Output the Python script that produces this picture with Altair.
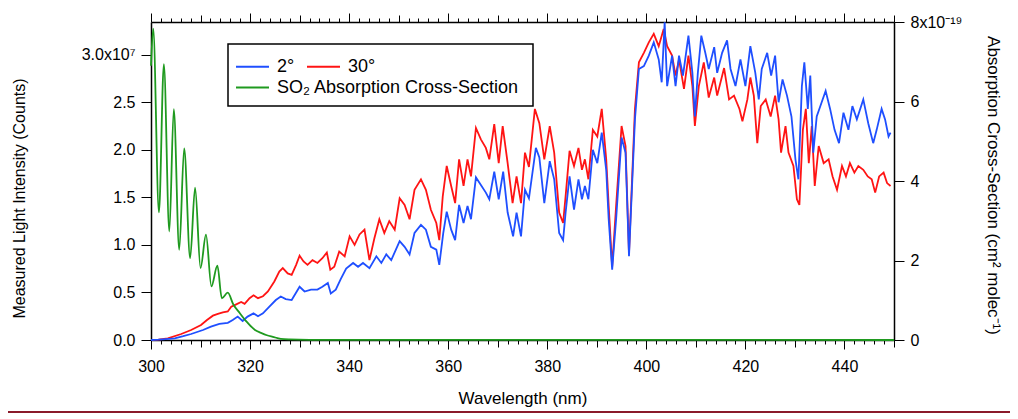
import altair as alt
import pandas as pd

# ---- Data ----
# 2 degree spectrum: wavelength (nm) and measured intensity (units of 1e7 counts)
wl_2deg = [300.0, 301.5, 303.0, 304.8, 306.5, 308.1, 310.5, 312.1, 313.8, 315.5,
           316.5, 317.5, 318.5, 319.5, 320.7, 321.6, 322.6, 323.9, 325.2, 326.2,
           327.2, 328.4, 330.0, 331.0, 332.3, 333.6, 334.6, 335.7, 336.3, 337.3,
           338.3, 339.4, 340.8, 341.8, 342.8, 344.1, 345.5, 346.5, 347.5, 348.5,
           350.2, 351.2, 352.2, 353.2, 354.5, 355.5, 356.5, 357.6, 358.2, 359.0,
           359.7, 360.6, 361.4, 362.2, 363.1, 363.9, 364.6, 365.6, 366.6, 367.6,
           368.3, 369.3, 370.2, 371.1, 372.0, 373.1, 373.8, 374.7, 375.5, 376.3,
           377.7, 378.4, 379.4, 380.5, 381.4, 382.4, 383.2, 383.7, 384.5, 385.4,
           386.3, 387.0, 387.6, 388.3, 389.2, 390.1, 391.0, 391.9, 392.4, 393.1,
           393.9, 395.0, 395.8, 396.5, 397.2, 397.7, 398.5, 399.5, 400.5, 401.5,
           402.5, 403.1, 403.7, 404.2, 405.2, 405.9, 406.6, 407.4, 408.5, 409.3,
           409.8, 410.4, 411.1, 411.9, 412.6, 413.7, 414.3, 415.3, 416.3, 417.0,
           418.0, 419.0, 420.0, 421.0, 422.0, 422.7, 423.3, 424.4, 425.2, 426.0,
           426.7, 427.5, 428.4, 429.3, 430.1, 430.7, 431.4, 431.9, 432.6, 433.1,
           433.7, 434.4, 435.4, 436.2, 437.1, 438.0, 438.9, 439.8, 440.8, 441.6,
           442.5, 443.8, 444.8, 445.8, 446.5, 447.5, 448.2, 448.9, 449.3]
int_2deg = [0.0, 0.003, 0.01, 0.018, 0.04, 0.063, 0.105, 0.14, 0.17, 0.18,
            0.21, 0.246, 0.20, 0.246, 0.28, 0.25, 0.28, 0.35, 0.42, 0.457,
            0.43, 0.42, 0.56, 0.51, 0.53, 0.53, 0.56, 0.60, 0.49, 0.53,
            0.64, 0.75, 0.81, 0.77, 0.81, 0.756, 0.88, 0.81, 0.90, 0.84,
            1.04, 0.98, 0.90, 1.125, 1.21, 1.16, 0.98, 0.95, 0.79, 1.125,
            1.35, 1.16, 1.05, 1.42, 1.23, 1.41, 1.27, 1.71, 1.63, 1.55,
            1.48, 1.77, 1.48, 1.77, 1.34, 1.09, 1.34, 1.09, 1.58, 1.49,
            2.02, 1.92, 1.44, 1.88, 1.69, 1.125, 1.05, 1.34, 1.72, 1.37,
            1.69, 1.48, 1.62, 1.48, 2.0, 1.86, 2.18, 1.79, 1.27, 0.74,
            1.27, 2.13, 1.97, 0.88, 1.72, 2.32, 2.85, 2.88, 2.99, 3.13,
            2.95, 2.71, 3.34, 2.67, 2.99, 2.67, 2.99, 2.78, 3.2, 2.81,
            2.35, 2.81, 3.2, 3.02, 2.85, 3.08, 2.81, 3.02, 3.15, 2.85,
            2.67, 2.95, 2.67, 3.09, 2.81, 2.53, 2.85, 3.02, 2.78, 2.99,
            2.50, 2.74, 2.57, 2.35, 1.90, 1.69, 2.67, 2.92, 2.43, 2.78,
            1.97, 2.35, 2.50, 2.62, 2.43, 2.21, 2.07, 2.39, 2.21, 2.46,
            2.32, 2.53, 2.28, 2.07, 2.21, 2.43, 2.32, 2.14, 2.18]

# 30 degree spectrum: wavelength (nm) and measured intensity (units of 1e7 counts)
wl_30deg = [300.0, 301.5, 303.4, 306.1, 308.1, 310.1, 311.3, 312.5, 313.5, 314.5,
            315.5, 316.2, 317.0, 318.2, 318.9, 319.9, 320.7, 321.6, 322.6, 323.6,
            324.9, 325.9, 326.6, 327.6, 328.4, 329.3, 330.0, 330.8, 331.6, 332.6,
            333.6, 334.6, 335.5, 336.2, 337.0, 338.0, 339.1, 340.1, 341.1, 342.1,
            343.1, 344.1, 345.1, 346.1, 347.1, 348.1, 349.2, 350.2, 351.2, 352.2,
            353.2, 354.5, 355.5, 356.5, 357.6, 358.2, 358.9, 359.7, 360.6, 361.4,
            362.2, 363.1, 363.9, 364.6, 365.6, 366.6, 367.6, 368.3, 369.3, 370.2,
            371.0, 372.0, 373.0, 373.8, 374.7, 375.5, 376.3, 377.5, 378.4, 379.4,
            380.5, 381.4, 382.4, 383.2, 383.7, 384.5, 385.4, 386.3, 387.0, 387.6,
            388.3, 389.2, 390.1, 391.0, 391.9, 392.4, 393.1, 393.9, 395.0, 395.8,
            396.5, 397.2, 397.7, 398.5, 399.5, 400.5, 401.5, 402.5, 403.5, 404.2,
            405.2, 405.9, 406.6, 407.6, 408.5, 409.3, 409.8, 410.6, 411.6, 412.6,
            413.7, 414.3, 415.7, 416.7, 417.7, 418.8, 419.4, 420.4, 421.0, 421.7,
            422.4, 423.1, 424.1, 425.1, 426.0, 426.7, 427.2, 428.1, 428.7, 429.7,
            430.4, 430.9, 431.6, 432.2, 432.8, 433.4, 434.0, 434.8, 435.8, 436.8,
            437.6, 438.5, 439.5, 440.3, 441.1, 442.0, 442.8, 443.8, 444.7, 445.5,
            446.2, 447.0, 447.9, 448.6, 449.3]
int_30deg = [0.0, 0.005, 0.018, 0.063, 0.105, 0.158, 0.21, 0.256, 0.274, 0.29,
             0.30, 0.35, 0.37, 0.40, 0.38, 0.44, 0.47, 0.44, 0.46, 0.51,
             0.615, 0.72, 0.756, 0.70, 0.685, 0.79, 0.886, 0.826, 0.79, 0.84,
             0.81, 0.86, 0.92, 0.74, 0.77, 0.93, 0.88, 1.09, 1.0, 1.11,
             1.16, 0.84, 1.07, 1.27, 1.125, 1.25, 1.16, 1.49, 1.42, 1.27,
             1.58, 1.69, 1.58, 1.37, 1.23, 1.05, 1.51, 1.83, 1.62, 1.44,
             1.90, 1.62, 1.90, 1.72, 2.23, 2.11, 2.02, 1.90, 2.27, 1.86,
             2.25, 1.86, 1.44, 1.72, 1.44, 1.97, 1.82, 2.43, 2.28, 1.90,
             2.25, 1.97, 1.34, 1.23, 1.51, 1.99, 1.83, 2.02, 1.79, 1.90,
             1.69, 2.21, 2.14, 2.43, 1.90, 1.41, 0.77, 1.41, 2.25, 2.04,
             0.91, 1.79, 2.43, 2.92, 3.02, 3.13, 3.22, 3.09, 3.27, 3.09,
             2.99, 2.78, 2.95, 2.64, 2.99, 2.67, 2.25, 2.67, 2.92, 2.55,
             2.76, 2.57, 2.86, 2.53, 2.57, 2.43, 2.30, 2.53, 2.76, 2.57,
             2.07, 2.46, 2.53, 2.35, 2.57, 2.32, 1.97, 2.25, 1.97, 1.83,
             1.48, 1.42, 2.21, 2.43, 1.86, 2.25, 1.62, 2.04, 1.86, 1.90,
             1.72, 1.58, 1.83, 1.72, 1.86, 1.76, 1.83, 1.79, 1.72, 1.69,
             1.55, 1.72, 1.76, 1.65, 1.62]

# SO2 absorption cross-section: wavelength (nm) and value (units of 1e-19 cm^2 molec^-1)
wl_so2 = [300.0, 300.45, 301.6, 302.6, 303.7, 304.6, 305.7, 306.7, 307.9, 308.9,
          310.0, 311.1, 312.2, 313.4, 314.3, 315.5, 316.6, 317.9, 319.3, 320.2,
          321.0, 322.2, 323.4, 324.6, 326.2, 328.0, 332.0, 340.0, 450.0]
xs_so2 = [6.9, 7.83, 3.21, 6.94, 2.73, 5.81, 2.27, 4.82, 2.06, 3.83,
          1.81, 2.65, 1.35, 1.87, 1.05, 1.19, 0.9, 0.68, 0.46, 0.34,
          0.25, 0.18, 0.12, 0.08, 0.03, 0.015, 0.005, 0.003, 0.0]

series_labels = ["2°", "30°"]
series_colors = ["#1f4fff", "#ff1414"]
so2_label = "SO₂ Absorption Cross-Section"
so2_color = "#1f9a1f"

x_tick_values = list(range(300, 451, 2))
left_tick_values = [0, 0.5e7, 1.0e7, 1.5e7, 2.0e7, 2.5e7, 3.0e7]
right_tick_values = [0, 2e-19, 4e-19, 6e-19, 8e-19]

# ---- Tables ----
spec = pd.concat([
    pd.DataFrame({"wl": wl_30deg, "I": [v * 1e7 for v in int_30deg], "series": series_labels[1]}),
    pd.DataFrame({"wl": wl_2deg, "I": [v * 1e7 for v in int_2deg], "series": series_labels[0]}),
], ignore_index=True)
so2 = pd.DataFrame({"wl": wl_so2, "sigma": [v * 1e-19 for v in xs_so2], "series": so2_label})

FONT = "Liberation Sans"
tick_size = {"condition": [{"test": "datum.value % 20 === 0", "value": 9},
                           {"test": "datum.value % 10 === 0", "value": 7}],
             "value": 4}
xscale = alt.Scale(domain=[300, 450], nice=False, zero=False)

spectra = alt.Chart(spec).mark_line(strokeWidth=1.8).encode(
    x=alt.X("wl:Q", scale=xscale,
            axis=alt.Axis(orient="bottom", values=x_tick_values, tickSize=tick_size,
                          labelExpr="datum.value % 20 === 0 ? datum.label : ''",
                          title="Wavelength (nm)", labelOverlap=False, labelFlush=False,
                          titlePadding=16, labelPadding=9, titleFontSize=17)),
    y=alt.Y("I:Q", scale=alt.Scale(domain=[0, 3.344e7], nice=False, zero=True),
            axis=alt.Axis(orient="left", values=left_tick_values, tickSize=10,
                          labelExpr="datum.value >= 2.99e7 ? '3.0x10⁷' : format(datum.value / 1e7, '.1f')",
                          title="Measured Light Intensity (Counts)", titleY=176,
                          labelFlush=False, labelOverlap=False, labelPadding=6, titlePadding=54,
                          titleFontSize=16)),
    color=alt.Color("series:N", scale=alt.Scale(domain=series_labels, range=series_colors),
                    legend=alt.Legend(orient="none", legendX=84, legendY=27, direction="horizontal",
                                      title=None, symbolType="stroke", symbolSize=1089,
                                      symbolStrokeWidth=1.8, labelOffset=7, columnPadding=8,
                                      labelLimit=400)),
)

so2_line = alt.Chart(so2).mark_line(strokeWidth=1.8, interpolate="monotone").encode(
    x=alt.X("wl:Q", scale=xscale,
            axis=alt.Axis(orient="top", values=x_tick_values, tickSize=tick_size,
                          labels=False, title=None)),
    y=alt.Y("sigma:Q", scale=alt.Scale(domain=[0, 8e-19], nice=False, zero=True),
            axis=alt.Axis(orient="right", values=right_tick_values, tickSize=10,
                          labelExpr="round(datum.value * 1e19) === 8 ? '8x10⁻¹⁹' : format(round(datum.value * 1e19), 'd')",
                          title="Absorption Cross-Section (cm² molec⁻¹)", titleY=163,
                          labelFlush=False, labelOverlap=False, labelPadding=6, titlePadding=22,
                          titleFontSize=17)),
    color=alt.Color("series:N", scale=alt.Scale(domain=[so2_label], range=[so2_color]),
                    legend=alt.Legend(orient="none", legendX=84, legendY=48, title=None,
                                      symbolType="stroke", symbolSize=1089, symbolStrokeWidth=1.8,
                                      labelOffset=7, labelLimit=400)),
)

one = pd.DataFrame({"k": [0]})
frame = alt.Chart(one).mark_rect(filled=False, stroke="black", strokeWidth=1.5).encode(
    x=alt.value(77), x2=alt.value(382), y=alt.value(22), y2=alt.value(84))
separator = alt.Chart(one).mark_rule(color="#8b1a2a", strokeWidth=2).encode(
    x=alt.value(-143), x2=alt.value(859), y=alt.value(390))

chart = alt.layer(spectra, so2_line, frame, separator).resolve_scale(
    x="independent", y="independent", color="independent"
).properties(
    width=743, height=318,
    padding={"left": 143, "top": 14, "right": 116, "bottom": 74},
    autosize=alt.AutoSizeParams(type="none"),
).configure_axis(
    labelFont=FONT, titleFont=FONT, labelFontSize=16, titleFontSize=16,
    titleFontWeight="normal", domainColor="black", tickColor="black",
    labelColor="black", titleColor="black", domainWidth=1.5, tickWidth=1, grid=False,
).configure_legend(
    labelFont=FONT, labelFontSize=18, labelColor="black", padding=0,
).configure_view(stroke=None)

chart.save("out.html", embed_options={"renderer": "svg", "actions": False})
